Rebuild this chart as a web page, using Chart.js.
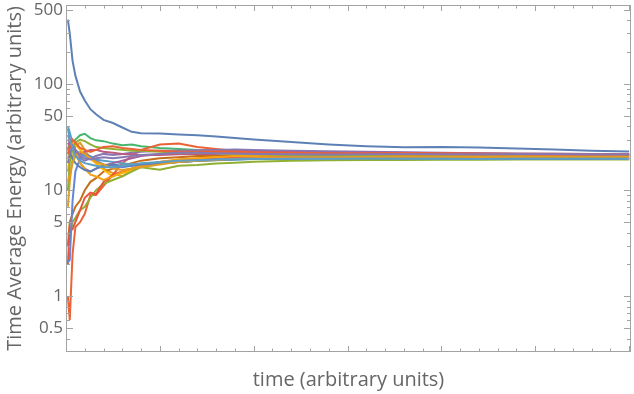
<!DOCTYPE html>
<html>
<head>
<meta charset="utf-8">
<script src="https://cdn.jsdelivr.net/npm/chart.js@4/dist/chart.umd.min.js"></script>
<style>
  html, body { margin: 0; padding: 0; background: #ffffff; }
  #wrap { width: 634px; height: 394px; }
</style>
</head>
<body>
<div id="wrap"><canvas id="chart" width="634" height="394"></canvas></div>
<script>
/* ===== Data ===== */

// sample times (arbitrary units), denser at the start
var times = [0.1, 0.2, 0.35, 0.5, 0.75, 1, 1.3, 1.6, 2, 2.5, 3, 3.5, 4, 5, 6, 7, 8, 9, 10, 12, 14, 16, 18, 20, 22, 24, 26, 28, 30];

var run1  = [404, 300, 165, 120, 85, 70, 58, 52, 46, 43, 39, 35.5, 34.5, 34.2, 33.5, 33, 32, 31, 30, 28.5, 27, 26, 25.4, 25.6, 25.3, 24.7, 24.2, 23.5, 23.2];
var run2  = [7, 12, 20, 26, 28, 24, 20, 18, 16, 14.5, 13.5, 15.5, 17, 18, 18.5, 19, 19.5, 20, 20.5, 21, 21.5, 21.5, 21.8, 21.5, 21.3, 21.2, 21.4, 21.3, 21.2];
var run3  = [25, 27, 28, 30, 33, 34, 31, 29.5, 29, 27.5, 26.5, 27, 26, 25, 24.5, 24, 23.8, 23.5, 23.2, 23, 22.5, 22.3, 22, 21.8, 21.7, 21.5, 21.4, 21.3, 21.2];
var run4  = [1.0, 0.6, 2.5, 4.5, 5, 6, 9, 9, 11, 14, 18, 21, 24, 27, 27.5, 25.5, 24.5, 23.5, 23.3, 23, 22.5, 22.5, 22.2, 22, 22, 21.8, 21.6, 21.5, 21.4];
var run5  = [30, 28, 25, 22, 20, 19, 20, 21, 22, 21.5, 22, 22.5, 23, 23.5, 23.5, 23.8, 24, 24.2, 24, 23.5, 23.3, 23, 22.8, 22.5, 22.3, 22.2, 22.1, 22, 22];
var run6  = [3, 5, 6, 7, 8, 10, 12, 13, 15, 16, 17, 18, 19, 20, 20.5, 21, 21, 21.3, 21.5, 21.5, 21.3, 21, 21, 20.8, 20.8, 20.7, 20.6, 20.6, 20.5];
var run7  = [40, 35, 28, 24, 22, 21, 20, 19.5, 19, 18.5, 18, 17.5, 17.5, 18, 18.5, 19, 19.3, 19.5, 19.8, 20, 20, 20, 19.8, 19.8, 19.7, 19.8, 19.8, 19.7, 19.7];
var run8  = [20, 25, 28, 27, 24, 22, 20, 18, 15.5, 13.5, 14.5, 15.5, 17, 18.5, 19.5, 20, 20.5, 20.5, 20.8, 21, 21, 21.2, 21.2, 21, 21, 21, 21.1, 21, 21];
var run9  = [33, 30, 26, 23, 18, 16, 15, 16, 17, 18, 19, 20, 21, 22, 22.5, 22.5, 22.8, 23, 23, 22.8, 22.6, 22.7, 22.5, 22.3, 22.2, 22, 22, 21.9, 21.8];
var run10 = [4, 3.6, 5, 5.5, 6.5, 7, 8.5, 10, 11.5, 12.5, 13.5, 15, 16.5, 15.6, 17, 17.3, 17.9, 18.2, 18.6, 19, 19.2, 19.3, 19.3, 19.4, 19.4, 19.5, 19.5, 19.5, 19.5];
var run11 = [2, 4.5, 4.3, 5, 6.5, 8.5, 9.5, 9.2, 12, 14, 15, 16, 17, 18.5, 19, 19.5, 20, 20.5, 20.5, 21, 21, 21.2, 21.3, 21.3, 21.2, 21.3, 21.4, 21.3, 21.3];
var run12 = [2.1, 2.2, 8, 15, 20, 22, 21, 19, 17.5, 17, 16.5, 17, 17.5, 18, 18.5, 19, 19.5, 19.8, 20, 20.3, 20.5, 20.5, 20.4, 20.3, 20.3, 20.3, 20.2, 20.2, 20.1];
var run13 = [15, 20, 25, 23, 18, 16, 14, 13.5, 12.5, 13.5, 15, 16, 17, 18.5, 19.5, 20, 20.5, 21, 21, 21.3, 21.5, 21.5, 21.7, 21.6, 21.5, 21.5, 21.6, 21.5, 21.5];
var run14 = [28, 26, 24, 23, 22, 23, 24, 24, 23, 22.5, 22, 21.8, 21.5, 21.5, 21.8, 22, 22, 22.3, 22.2, 22, 21.8, 21.8, 21.9, 21.8, 21.7, 21.7, 21.7, 21.6, 21.6];
var run15 = [10, 18, 25, 28, 30, 29, 27, 25.5, 25, 24.5, 24, 23.5, 23.5, 23, 22.5, 22.5, 22.3, 22, 21.8, 21.5, 21.2, 21, 20.8, 20.8, 20.7, 20.7, 20.6, 20.6, 20.6];
var run16 = [25, 22, 20, 18, 16.5, 15.5, 15, 16, 17, 17.5, 17, 17, 17.5, 18, 18.5, 19, 19.2, 19.5, 19.7, 19.8, 20, 20, 20, 19.9, 19.8, 19.8, 19.8, 19.8, 19.8];
var run17 = [12, 14, 18, 21, 23, 22, 20, 18.5, 17.5, 16, 15.5, 16, 16.5, 17.5, 18.5, 19, 19.3, 19.8, 20, 20.3, 20.5, 20.6, 20.7, 20.7, 20.6, 20.7, 20.7, 20.7, 20.7];
var run18 = [22, 26, 30, 28, 25, 24, 23, 24, 25.5, 26, 25, 24.5, 24, 23.5, 23, 23, 23.2, 23, 22.8, 22.5, 22.3, 22.3, 22.4, 22.3, 22.2, 22.1, 22.1, 22, 22];
var run19 = [18, 22, 26, 24, 21, 20, 19.5, 20, 20.5, 20, 20.5, 21, 21.5, 22, 22.5, 22.5, 22.3, 22.2, 22, 21.8, 21.7, 21.8, 21.9, 21.8, 21.8, 21.9, 21.9, 21.8, 21.8];
var run20 = [38, 30, 25, 21, 19, 18, 17.5, 17, 16.5, 16.5, 17, 17.5, 18, 18.5, 19, 19.2, 19.5, 19.6, 19.7, 19.8, 19.8, 19.9, 19.8, 19.8, 19.7, 19.8, 19.8, 19.8, 19.8];

var runs = [run1, run2, run3, run4, run5, run6, run7, run8, run9, run10,
            run11, run12, run13, run14, run15, run16, run17, run18, run19, run20];

// tick values
var yMajorTicks = [0.5, 1, 5, 10, 50, 100, 500];
var yMinorTicks = [0.4, 0.6, 0.7, 0.8, 0.9, 2, 3, 4, 6, 7, 8, 9, 20, 30, 40, 60, 70, 80, 90, 200, 300, 400];
var xMajorTicks = [5, 10, 15, 20, 25, 30];
var xMinorTicks = [1, 2, 3, 4, 6, 7, 8, 9, 11, 12, 13, 14, 16, 17, 18, 19, 21, 22, 23, 24, 26, 27, 28, 29];


/* ===== Styles ===== */

var lineColors = [
    '#5E81B5', '#E19C24', '#47B66D', '#EB6235', '#8778B3',
    '#C56E1A', '#5D9EC7', '#FFBF00', '#A5609D', '#8FB032',
    '#E95536', '#6685D9', '#F89F13', '#BC5B80', '#8FB032',
    '#5E81B5', '#E19C24', '#EB6235', '#8778B3', '#5D9EC7'
];
var frameColor = '#a3a3a3';
var textColor = '#666666';
var fontFamily = "'Open Sans', 'Noto Sans', sans-serif";


/* ===== Frame with inward ticks ===== */

var frameTicks = {
    id: 'frameTicks',
    afterDatasetsDraw: function(chart) {
        var ctx = chart.ctx;
        var a = chart.chartArea;
        var xs = chart.scales.x;
        var ys = chart.scales.y;

        ctx.save();
        ctx.strokeStyle = frameColor;
        ctx.lineWidth = 1;
        ctx.strokeRect(a.left + 0.5, a.top + 0.5, a.right - a.left - 1, a.bottom - a.top - 1);

        function yTick(v, len) {
            var y = Math.round(ys.getPixelForValue(v)) + 0.5;
            ctx.moveTo(a.left, y); ctx.lineTo(a.left + len, y);
            ctx.moveTo(a.right, y); ctx.lineTo(a.right - len, y);
        }
        function xTick(v, len) {
            var x = Math.round(xs.getPixelForValue(v)) + 0.5;
            ctx.moveTo(x, a.bottom); ctx.lineTo(x, a.bottom - len);
            ctx.moveTo(x, a.top); ctx.lineTo(x, a.top + len);
        }

        ctx.beginPath();
        yMajorTicks.forEach(function(v) { yTick(v, 7); });
        yMinorTicks.forEach(function(v) { yTick(v, 4); });
        xMajorTicks.forEach(function(v) { xTick(v, 6); });
        xMinorTicks.forEach(function(v) { xTick(v, 3.5); });
        ctx.stroke();
        ctx.restore();
    }
};


/* ===== Chart ===== */

var datasets = runs.map(function(run, i) {
    return {
        label: 'run ' + (i + 1),
        data: run.map(function(v, j) { return { x: times[j], y: v }; }),
        borderColor: lineColors[i],
        borderWidth: 2,
        pointRadius: 0,
        tension: 0,
        fill: false,
        order: runs.length - i
    };
});

new Chart(document.getElementById('chart'), {
    type: 'line',
    data: { datasets: datasets },
    options: {
        responsive: false,
        animation: false,
        events: [],
        layout: { autoPadding: false, padding: { left: 0, right: 3, top: 5, bottom: 0 } },
        plugins: {
            legend: { display: false },
            tooltip: { enabled: false }
        },
        scales: {
            x: {
                type: 'linear',
                min: 0,
                max: 30.1,
                grid: { display: false, drawTicks: false },
                border: { display: false },
                ticks: { display: false },
                title: {
                    display: true,
                    text: 'time (arbitrary units)',
                    color: textColor,
                    font: { family: fontFamily, size: 20 },
                    padding: { top: 0, bottom: 2 }
                },
                afterFit: function(scale) { scale.height = 42; }
            },
            y: {
                type: 'logarithmic',
                min: 0.33,
                max: 555,
                grid: { display: false, drawTicks: false },
                border: { display: false },
                ticks: {
                    color: textColor,
                    padding: 3,
                    font: { family: fontFamily, size: 17 },
                    callback: function(v) { return String(v); }
                },
                afterBuildTicks: function(scale) {
                    scale.ticks = yMajorTicks.map(function(v) { return { value: v }; });
                },
                title: {
                    display: true,
                    text: 'Time Average Energy (arbitrary units)',
                    color: textColor,
                    font: { family: fontFamily, size: 20 },
                    padding: { top: 3, bottom: 0 }
                },
                afterFit: function(scale) {
                    scale.width = 66;
                    scale.paddingTop = 0;
                    scale.paddingBottom = 0;
                }
            }
        }
    },
    plugins: [frameTicks]
});
</script>
</body>
</html>
